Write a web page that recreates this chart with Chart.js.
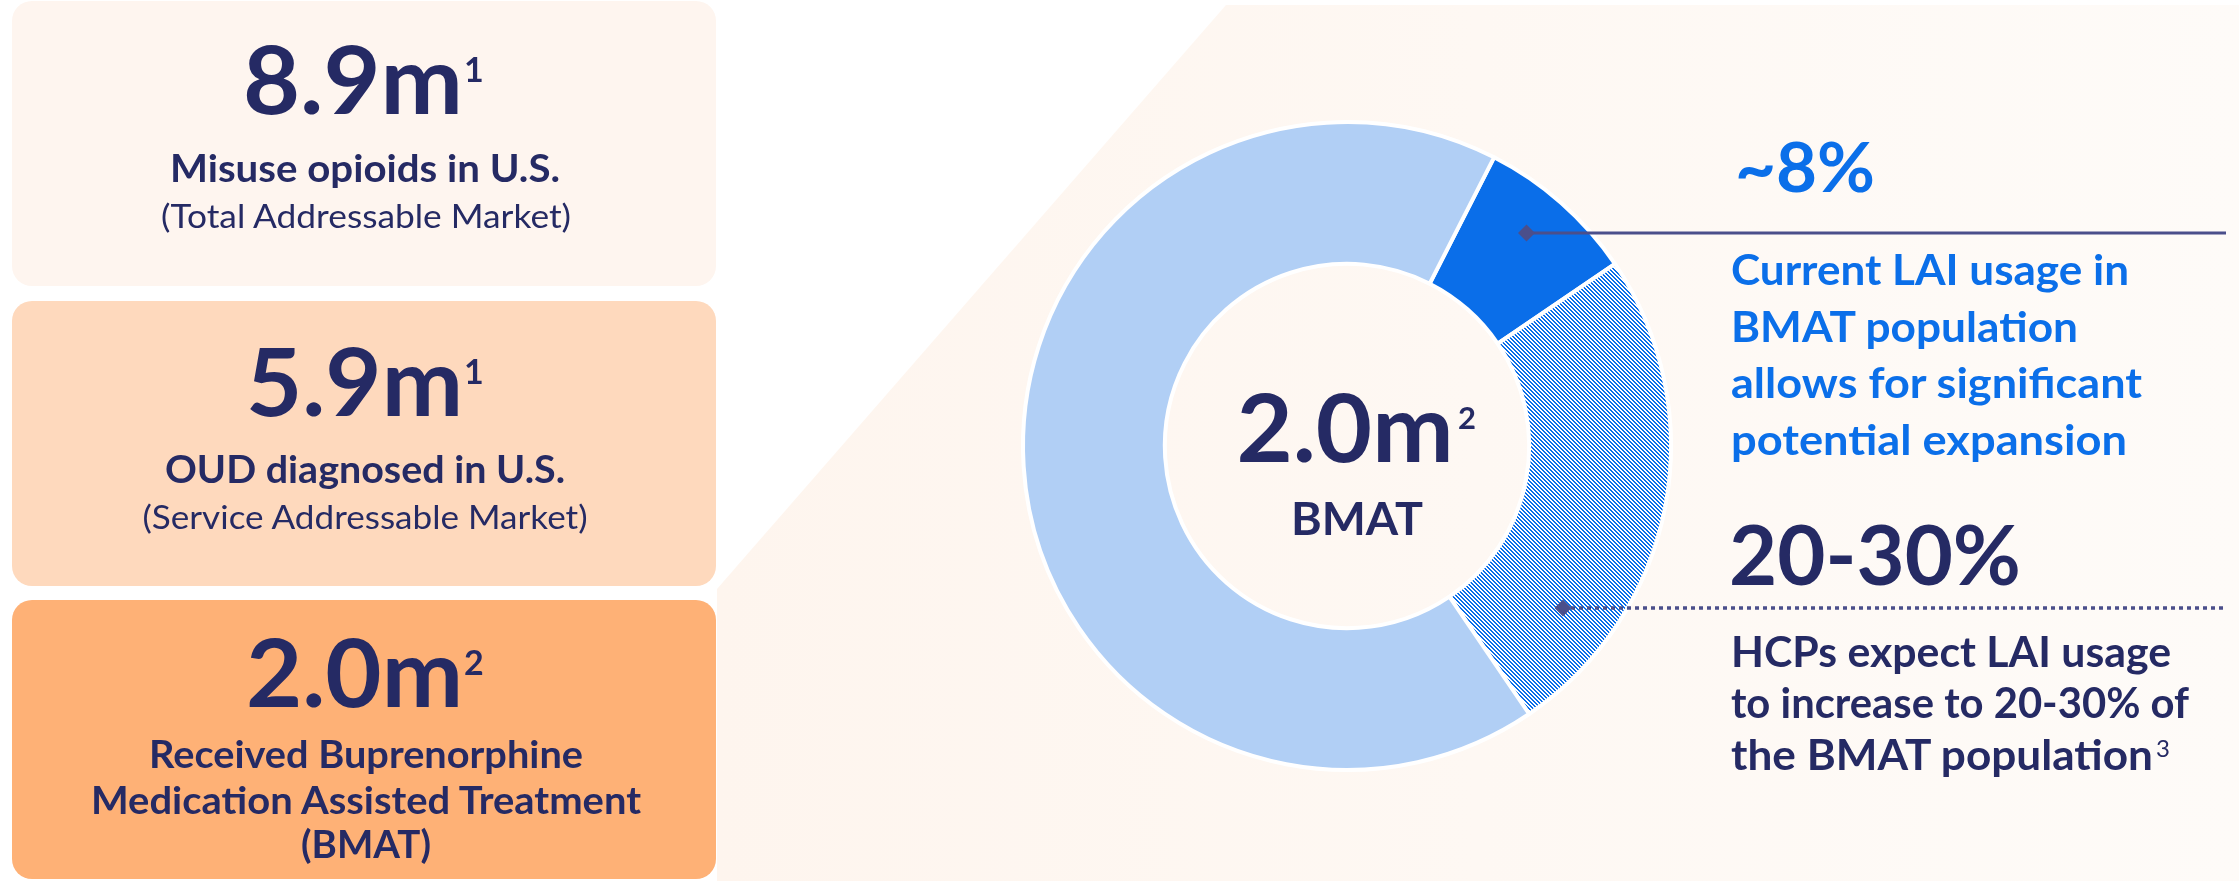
<!DOCTYPE html>
<html><head><meta charset="utf-8">
<script src="https://cdn.jsdelivr.net/npm/chart.js@4.4.1/dist/chart.umd.min.js"></script>
<style>
html,body{margin:0;padding:0;background:#ffffff;width:2239px;height:881px;overflow:hidden}
#bg,#fg,#wrap{position:absolute;left:0;top:0}
#wrap{width:2239px;height:881px}
text{font-family:Lato,"Open Sans",sans-serif;font-weight:700}
.navy{fill:#252A64}
.blue{fill:#0B6FE9}
.reg{font-weight:400}
</style></head>
<body>
<svg id="bg" width="2239" height="881">
  <defs>
    <linearGradient id="g" x1="0" x2="1" y1="0" y2="0">
      <stop offset="0" stop-color="#FEF5EE"/>
      <stop offset="1" stop-color="#FEFBF8"/>
    </linearGradient>
  </defs>
  <polygon points="1226,5 2239,5 2239,881 717,881 717,589" fill="url(#g)"/>
  <rect x="12" y="1" width="704" height="285" rx="20" fill="#FEF5EF"/>
  <rect x="12" y="301" width="704" height="285" rx="20" fill="#FED9BD"/>
  <rect x="12" y="600" width="704" height="279" rx="20" fill="#FEB176"/>
</svg>
<div id="wrap"><canvas id="c" width="2239" height="881"></canvas></div>
<svg id="fg" width="2239" height="881">
  <!-- box 1 -->
  <text class="navy" x="243" y="114" font-size="94" textLength="220" lengthAdjust="spacingAndGlyphs">8.9m</text>
  <text class="navy" x="464" y="82" font-size="34">1</text>
  <text class="navy" x="365" y="182" font-size="38" text-anchor="middle" textLength="390" lengthAdjust="spacingAndGlyphs">Misuse opioids in U.S.</text>
  <text class="navy reg" x="366" y="228" font-size="33" text-anchor="middle" textLength="410" lengthAdjust="spacingAndGlyphs">(Total Addressable Market)</text>
  <!-- box 2 -->
  <text class="navy" x="246" y="416" font-size="94" textLength="217" lengthAdjust="spacingAndGlyphs">5.9m</text>
  <text class="navy" x="464" y="384" font-size="34">1</text>
  <text class="navy" x="365" y="483" font-size="38" text-anchor="middle" textLength="400" lengthAdjust="spacingAndGlyphs">OUD diagnosed in U.S.</text>
  <text class="navy reg" x="365" y="529" font-size="33" text-anchor="middle" textLength="445" lengthAdjust="spacingAndGlyphs">(Service Addressable Market)</text>
  <!-- box 3 -->
  <text class="navy" x="246" y="707" font-size="94" textLength="217" lengthAdjust="spacingAndGlyphs">2.0m</text>
  <text class="navy" x="464" y="675" font-size="34">2</text>
  <text class="navy" x="366" y="768" font-size="38" text-anchor="middle" textLength="434" lengthAdjust="spacingAndGlyphs">Received Buprenorphine</text>
  <text class="navy" x="366" y="814" font-size="38" text-anchor="middle" textLength="550" lengthAdjust="spacingAndGlyphs">Medication Assisted Treatment</text>
  <text class="navy" x="366" y="858" font-size="38" text-anchor="middle" textLength="130" lengthAdjust="spacingAndGlyphs">(BMAT)</text>
  <!-- donut centre -->
  <text class="navy" x="1345" y="462" font-size="94" text-anchor="middle" textLength="217" lengthAdjust="spacingAndGlyphs">2.0m</text>
  <text class="navy" x="1458" y="429" font-size="31">2</text>
  <text class="navy" x="1357" y="535" font-size="46" text-anchor="middle" textLength="132" lengthAdjust="spacingAndGlyphs">BMAT</text>
  <!-- right annotations -->
  <text class="blue" x="1735" y="192" font-size="69" textLength="140" lengthAdjust="spacingAndGlyphs">~8%</text>
  <text class="blue" x="1731" y="285" font-size="42" textLength="398" lengthAdjust="spacingAndGlyphs">Current LAI usage in</text>
  <text class="blue" x="1731" y="342" font-size="42" textLength="347" lengthAdjust="spacingAndGlyphs">BMAT population</text>
  <text class="blue" x="1731" y="398" font-size="42" textLength="411" lengthAdjust="spacingAndGlyphs">allows for significant</text>
  <text class="blue" x="1731" y="455" font-size="42" textLength="396" lengthAdjust="spacingAndGlyphs">potential expansion</text>
  <text class="navy" x="1729" y="585" font-size="82" textLength="292" lengthAdjust="spacingAndGlyphs">20-30%</text>
  <text class="navy" x="1731" y="667" font-size="42" textLength="440" lengthAdjust="spacingAndGlyphs">HCPs expect LAI usage</text>
  <text class="navy" x="1731" y="718" font-size="42" textLength="458" lengthAdjust="spacingAndGlyphs">to increase to 20-30% of</text>
  <text class="navy" x="1731" y="770" font-size="42" textLength="422" lengthAdjust="spacingAndGlyphs">the BMAT population</text>
  <text class="navy reg" x="2156" y="757" font-size="24">3</text>
</svg>
<script>
// ---- data ----
const segmentLabels = ['Current LAI usage (~8%)', 'Expected LAI growth (to 20-30%)', 'Rest of BMAT population'];
const segmentValues = [8, 25, 67];
const startRotation = 27; // degrees clockwise from 12 o'clock where the first slice starts

// annotation leaders: which slice, where inside it the marker sits
const leaderSlice = [0, 1];
const leaderAngleFrac = [0.455, 0.79];
const leaderRadiusFrac = [0.68, 0.62];
const leaderDash = [[], [4, 4]];

const canvas = document.getElementById('c');
const ctx = canvas.getContext('2d');

function hatch() {
  const t = document.createElement('canvas');
  t.width = 4; t.height = 4;
  const x = t.getContext('2d');
  x.fillStyle = '#FFFFFF'; x.fillRect(0, 0, 4, 4);
  x.fillStyle = '#0A6EE9';
  for (let yy = 0; yy < 4; yy++) for (let xx = 0; xx < 4; xx++) {
    if ((((xx - yy) % 4) + 4) % 4 < 2) x.fillRect(xx, yy, 1, 1);
  }
  return ctx.createPattern(t, 'repeat');
}

const leaders = {
  id: 'leaders',
  afterDatasetsDraw(chart) {
    const c = chart.ctx;
    const meta = chart.getDatasetMeta(0);
    leaderSlice.forEach((idx, i) => {
      const arc = meta.data[idx];
      const p = arc.getProps(['x', 'y', 'startAngle', 'endAngle', 'innerRadius', 'outerRadius'], true);
      const a = p.startAngle + (p.endAngle - p.startAngle) * leaderAngleFrac[i];
      const r = p.innerRadius + (p.outerRadius - p.innerRadius) * leaderRadiusFrac[i];
      const px = p.x + Math.cos(a) * r;
      const py = Math.round(p.y + Math.sin(a) * r);
      const endX = chart.width - 13;
      c.save();
      c.strokeStyle = '#4B4F8B';
      c.fillStyle = '#4B4F8B';
      c.lineWidth = i === 0 ? 3.2 : 3.5;
      c.setLineDash(leaderDash[i]);
      c.beginPath();
      c.moveTo(px, py);
      c.lineTo(endX, py);
      c.stroke();
      c.setLineDash([]);
      c.beginPath();
      c.moveTo(px - 8.5, py);
      c.lineTo(px, py - 8.5);
      c.lineTo(px + 8.5, py);
      c.lineTo(px, py + 8.5);
      c.closePath();
      c.fill();
      c.restore();
    });
  }
};

new Chart(ctx, {
  type: 'doughnut',
  data: {
    labels: segmentLabels,
    datasets: [{
      data: segmentValues,
      backgroundColor: ['#0A6EE9', hatch(), '#B1CFF5'],
      borderColor: '#FFFFFF',
      borderWidth: 4,
      hoverOffset: 0
    }]
  },
  options: {
    responsive: false,
    animation: false,
    devicePixelRatio: 1,
    rotation: startRotation,
    radius: 324,
    cutout: 194,
    layout: { padding: { left: 1000, right: 545, top: 60, bottom: 49 } },
    plugins: { legend: { display: false }, tooltip: { enabled: false } }
  },
  plugins: [leaders]
});
</script>
</body></html>
